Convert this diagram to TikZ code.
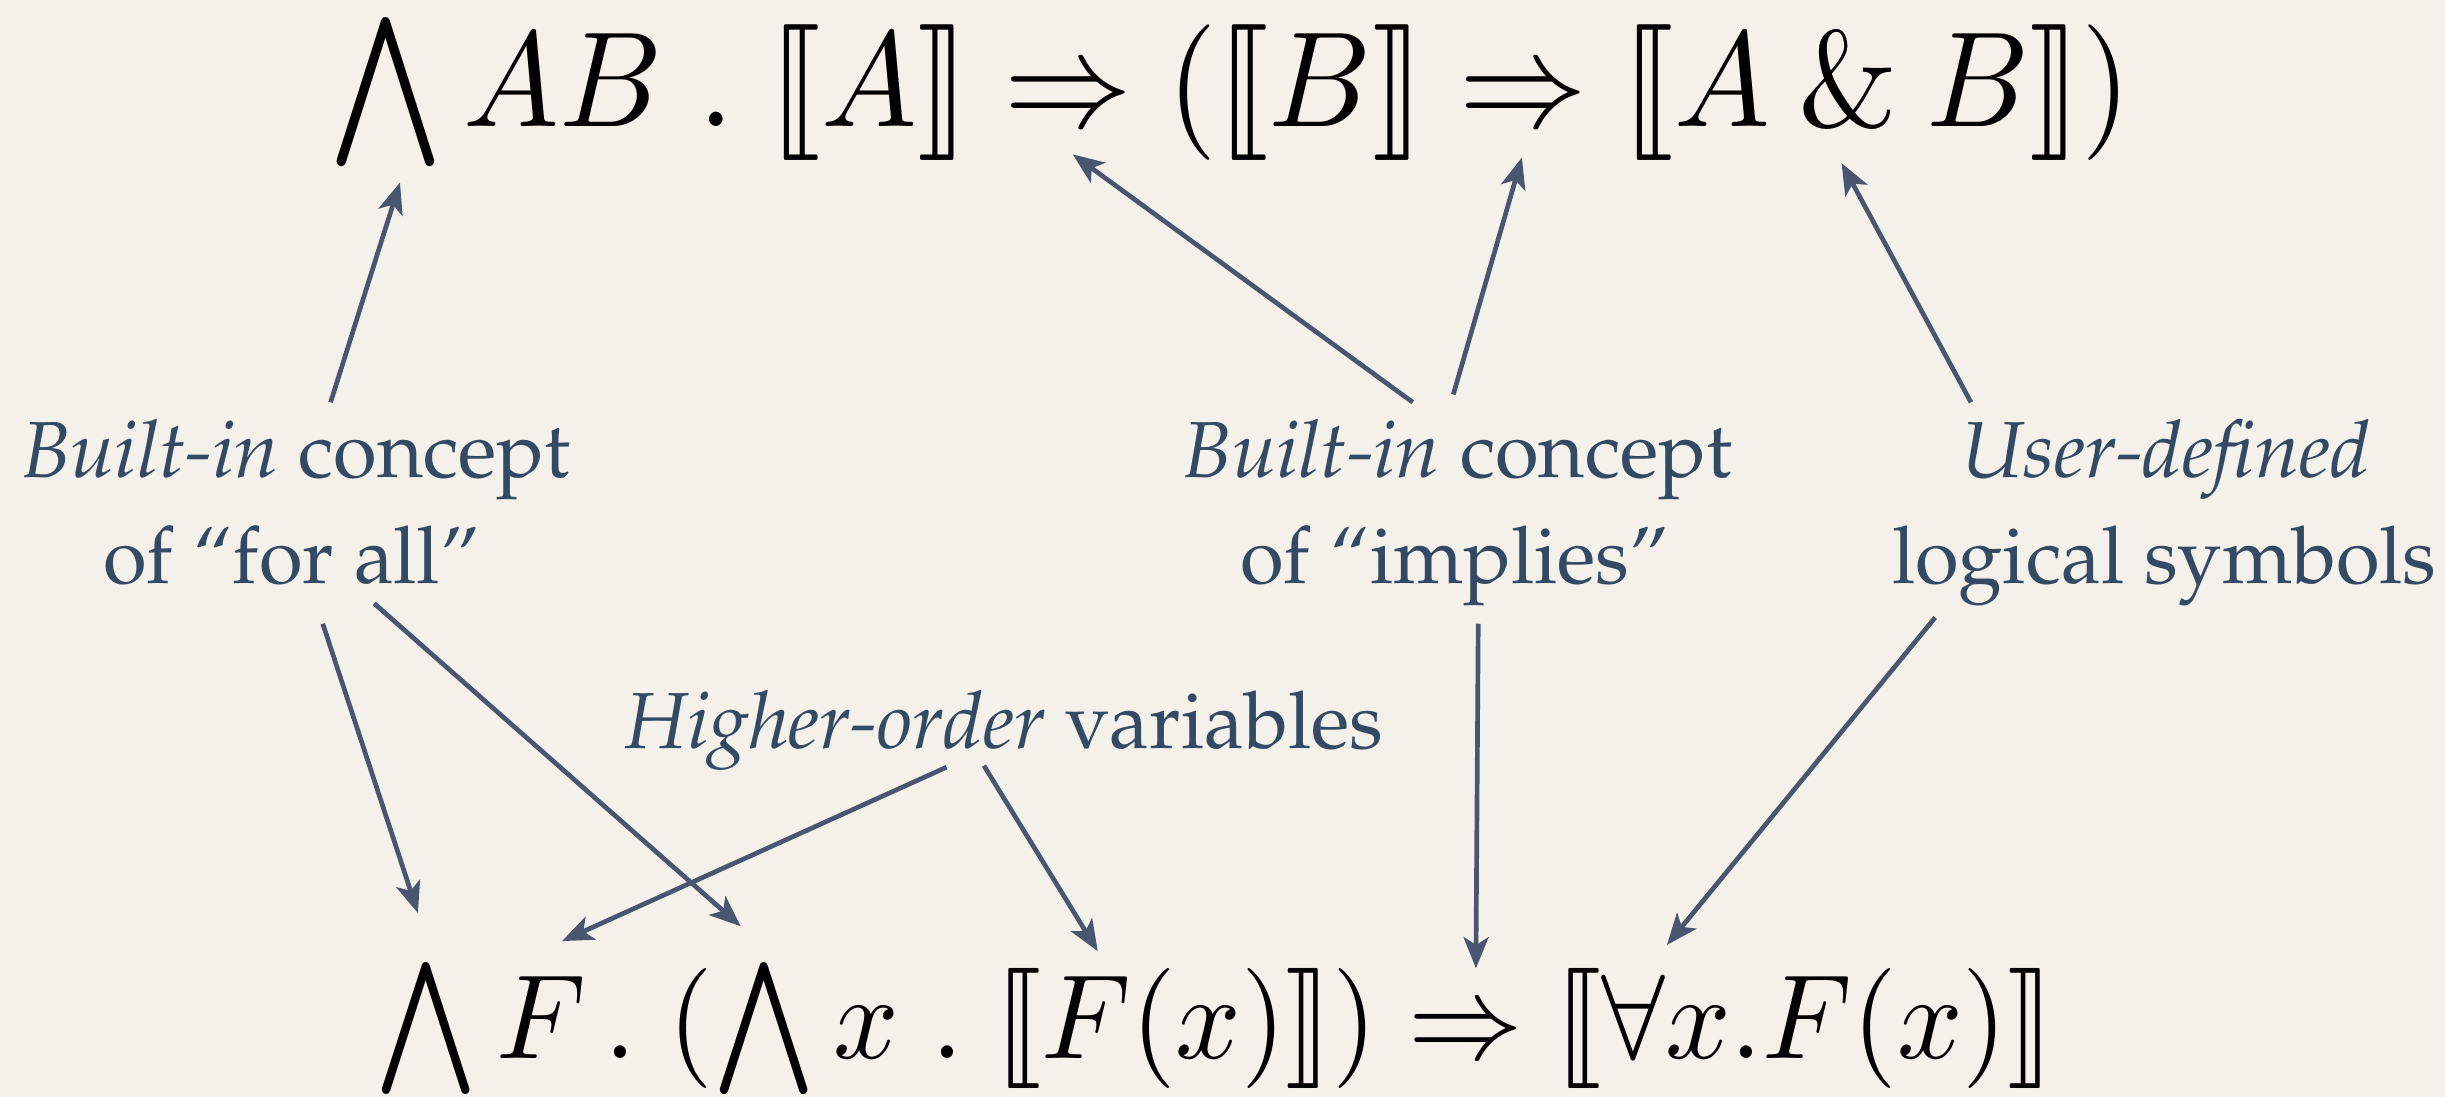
\documentclass[tikz,border=0pt]{standalone}
\usepackage[T1,TU]{fontenc}
\usepackage{stmaryrd}
\usepackage{graphicx}
\usetikzlibrary{arrows.meta}
\definecolor{bgc}{RGB}{244,241,234}
\definecolor{txtc}{RGB}{52,73,99}
\definecolor{arrc}{RGB}{74,86,112}
\newcommand\palfont{\fontencoding{T1}\fontfamily{ppl}\selectfont}
\newcommand\qall{\mathop{\vcenter{\hbox{\scalebox{1.06}[1.1]{$\bigwedge$}}}}\nolimits}
\begin{document}
\begin{tikzpicture}[x=0.5pt,y=-0.5pt,
  lbl/.style={font=\palfont\fontsize{25.5}{30}\selectfont, text=txtc, inner sep=0pt, anchor=base},
  formula/.style={inner sep=0pt, anchor=base west},
  conn/.style={draw=arrc, line width=1.5pt, -{Stealth[length=10pt,width=8pt,inset=2.5pt]}}]
\useasboundingbox (0,0) rectangle (1568,703.5);
\fill[bgc] (0,0) rectangle (1568,703.5);

% formulas
\node[formula] (top) at (211,80.8) {\scalebox{4.1}[4.35]{$\qall AB\mathrel{.}\llbracket A\rrbracket \Rightarrow (\llbracket B\rrbracket \Rightarrow \llbracket A\mathbin{\&} B\rrbracket)$}};
\node[formula] (bot) at (240.5,679) {\scalebox{3.68}[3.85]{$\qall F\mathrel{.}(\qall x\mathrel{.}\llbracket F(x)\rrbracket)\Rightarrow\llbracket\forall x.F(x)\rrbracket$}};

% labels
\node[lbl] (fa1) at (190,306) {\textit{Built-in} concept};
\node[lbl] (fa2) at (187,374) {of ``for all''};
\node[lbl] (im1) at (935,306) {\textit{Built-in} concept};
\node[lbl] (im2) at (933,374) {of ``implies''};
\node[lbl] (ud1) at (1389,306) {\textit{User-defined}};
\node[lbl] (ud2) at (1388,374) {logical symbols};
\node[lbl] (ho) at (644,480) {\textit{Higher-order} variables};

% connector ends
\coordinate (s1) at (212,258);   \coordinate (e1) at (256.5,117);
\coordinate (s2) at (906,258);   \coordinate (e2) at (688,99);
\coordinate (s3) at (932,253);   \coordinate (e3) at (976,101);
\coordinate (s4) at (1264,258);  \coordinate (e4) at (1181,104.6);
\coordinate (s5) at (207,400);   \coordinate (e5) at (268,585.5);
\coordinate (s6) at (240,387);   \coordinate (e6) at (475,594);
\coordinate (s7) at (607,492);   \coordinate (e7) at (360.5,603.5);
\coordinate (s8) at (631,491);   \coordinate (e8) at (704,610);
\coordinate (s9) at (948,400);   \coordinate (e9) at (946.5,621);
\coordinate (s10) at (1241,396); \coordinate (e10) at (1069,606);

\foreach \i in {1,...,10} {\draw[conn] (s\i) -- (e\i);}
\end{tikzpicture}
\end{document}
